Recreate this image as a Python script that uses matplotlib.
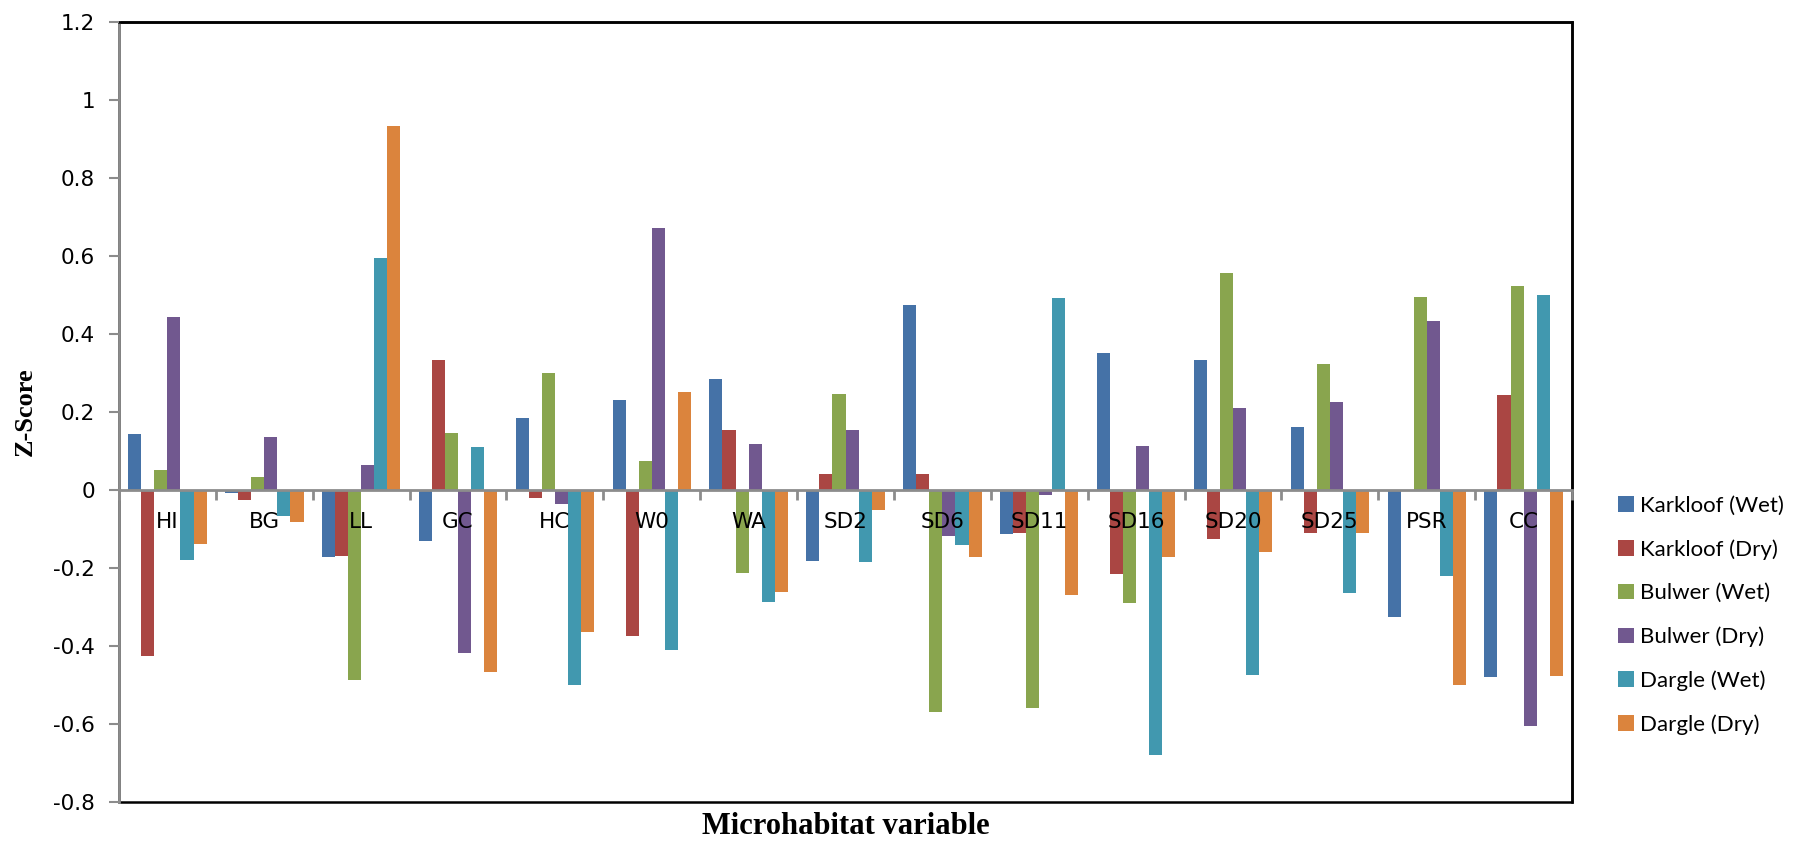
import numpy as np
import matplotlib.pyplot as plt
from matplotlib.patches import Rectangle

# Microhabitat variables (x categories)
variables = ["HI", "BG", "LL", "GC", "HC", "W0", "WA", "SD2", "SD6",
             "SD11", "SD16", "SD20", "SD25", "PSR", "CC"]

series_names = ["Karkloof (Wet)", "Karkloof (Dry)", "Bulwer (Wet)",
                "Bulwer (Dry)", "Dargle (Wet)", "Dargle (Dry)"]

karkloof_wet = [0.144, -0.007, -0.173, -0.132, 0.184, 0.230, 0.285, -0.182, 0.473,
                -0.114, 0.350, 0.332, 0.162, -0.326, -0.480]
karkloof_dry = [-0.425, -0.026, -0.169, 0.332, -0.021, -0.374, 0.155, 0.040, 0.042,
                -0.110, -0.215, -0.126, -0.110, 0.0, 0.243]
bulwer_wet = [0.052, 0.033, -0.487, 0.147, 0.299, 0.074, -0.214, 0.245, -0.569,
              -0.558, -0.289, 0.557, 0.322, 0.495, 0.522]
bulwer_dry = [0.444, 0.137, 0.064, -0.418, -0.037, 0.672, 0.117, 0.154, -0.117,
              -0.012, 0.114, 0.210, 0.226, 0.432, -0.605]
dargle_wet = [-0.180, -0.067, 0.594, 0.110, -0.500, -0.411, -0.288, -0.185, -0.140,
              0.491, -0.679, -0.474, -0.265, -0.221, 0.499]
dargle_dry = [-0.138, -0.082, 0.934, -0.466, -0.365, 0.252, -0.262, -0.052, -0.173,
              -0.269, -0.173, -0.158, -0.110, -0.500, -0.476]

colors = ["#4572A7", "#AA4643", "#89A54E", "#71588F", "#4198AF", "#DB843D"]

all_series = [karkloof_wet, karkloof_dry, bulwer_wet, bulwer_dry, dargle_wet, dargle_dry]

fig = plt.figure(figsize=(18.08, 8.43), dpi=100)
ax = fig.add_axes([0.0658, 0.0486, 0.8037, 0.9254])

x = np.arange(len(variables))
w = 0.135
for i, (vals, name) in enumerate(zip(all_series, series_names)):
    ax.bar(x + (i - 2.5) * w, vals, width=w, color=colors[i], label=name,
           edgecolor="none", zorder=2)

ax.set_axisbelow(False)  # category labels drawn over the bars, as in Excel
ax.set_xlim(-0.5, len(variables) - 0.5)
ax.set_ylim(-0.8, 1.2)
ax.set_yticks(np.arange(-0.8, 1.21, 0.2))
ax.set_yticklabels(["-0.8", "-0.6", "-0.4", "-0.2", "0", "0.2", "0.4", "0.6",
                    "0.8", "1", "1.2"])

# category axis sits on the zero line
ax.spines["bottom"].set_position(("data", 0))
ax.spines["bottom"].set_color("#8c8c8c")
ax.spines["bottom"].set_linewidth(2)
ax.spines["left"].set_color("#8c8c8c")
ax.spines["left"].set_linewidth(2)
ax.spines["top"].set_linewidth(1.8)
ax.spines["right"].set_linewidth(1.8)
ax.add_patch(Rectangle((0, 0), 1, 1, transform=ax.transAxes, fill=False,
                       edgecolor="black", linewidth=1.8, zorder=1, clip_on=False))

ax.set_xticks(np.arange(-0.5, len(variables) + 0.5, 1.0))
ax.set_xticklabels([])
ax.set_xticks(x, minor=True)
ax.set_xticklabels(variables, minor=True, fontsize=15.5, family="DejaVu Sans")
ax.tick_params(axis="x", which="major", length=7, width=2, color="#8c8c8c", direction="out")
ax.tick_params(axis="x", which="minor", length=0, pad=16)
ax.tick_params(axis="y", length=7, width=1.5, color="#8c8c8c", labelsize=15.5, pad=10)

ax.set_ylabel("Z-Score", fontsize=19, fontweight="bold", family="Liberation Serif", labelpad=12)
fig.text(0.4677, 0.019, "Microhabitat variable", fontsize=22, fontweight="bold",
         family="Liberation Serif", ha="center", va="center")

leg = ax.legend(loc="center left", bbox_to_anchor=(0.884, 0.27),
                bbox_transform=fig.transFigure, frameon=False,
                prop={"family": "Lato", "size": 16}, handlelength=0.7,
                handleheight=0.7, handletextpad=0.3, labelspacing=1.05)

fig.savefig("out.png", dpi=100)
